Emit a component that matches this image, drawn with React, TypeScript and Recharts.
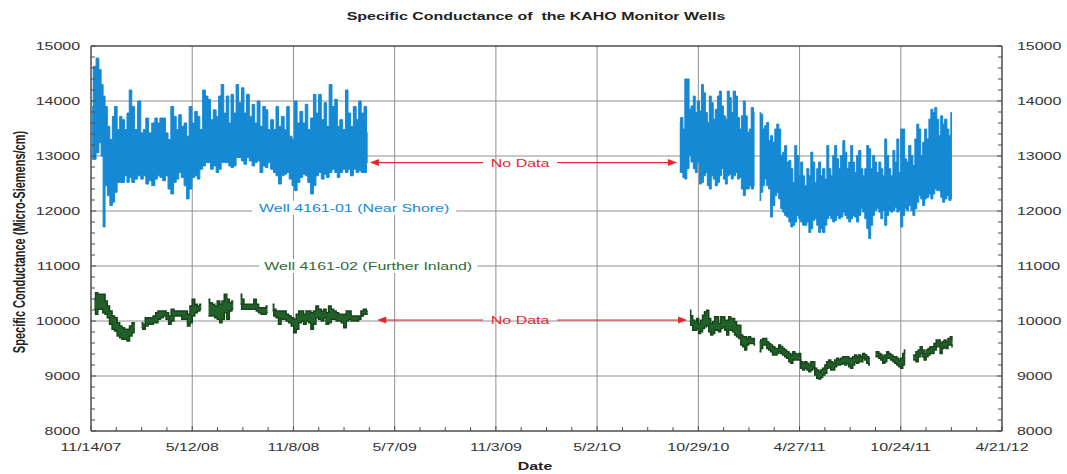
import React from 'react';
import {
  ComposedChart,
  Area,
  XAxis,
  YAxis,
  CartesianGrid,
  ReferenceLine,
  ReferenceDot,
} from 'recharts';

// x = days since 11/14/07 ; [day, low, high] (µS/cm)
const xTickLabels = ['11/14/07', '5/12/08', '11/8/08', '5/7/09', '11/3/09', '5/2/1O', '10/29/10', '4/27/11', '10/24/11', '4/21/12'];
const xMajorStep = 180;
const xMinorStep = 45;
const yMin = 8000;
const yMax = 15000;
const yMajorStep = 1000;
const yMinorStep = 200;

type Row = [number, number | null, number | null];

const nearShoreA: Row[] = [
  [2, 12940, 13900], [6, 12940, 14630], [12, 13060, 14780], [16, 13240, 14570], [20, 13000, 14300],
  [23, 11710, 14090], [27, 12460, 13900], [31, 12280, 13540], [36, 12100, 13300], [40, 12160, 13720],
  [44, 12340, 13900], [49, 12520, 13480], [53, 12520, 13720], [57, 12520, 13660], [62, 12640, 13480],
  [66, 12520, 13780], [70, 12610, 14200], [75, 12520, 13900], [80, 12580, 13480], [86, 12640, 14000],
  [91, 12580, 13420], [95, 12640, 13480], [100, 12490, 13690], [105, 12550, 13420], [111, 12460, 13600],
  [116, 12580, 13690], [120, 12640, 13600], [125, 12610, 13690], [130, 12550, 13690], [135, 12640, 13420],
  [139, 12400, 13300], [145, 12310, 13900], [149, 12520, 13720], [154, 12580, 13480], [158, 12700, 13750],
  [163, 12610, 13540], [168, 12460, 13600], [172, 12220, 13360], [177, 12400, 13900], [182, 12610, 13600],
  [187, 12640, 13810], [191, 12580, 13720], [196, 12760, 13480], [201, 12820, 14200], [206, 12880, 14090],
  [210, 12880, 14030], [215, 12760, 13660], [220, 12820, 13840], [225, 12700, 13720], [229, 12760, 14090],
  [234, 12880, 14300], [238, 12880, 13780], [243, 12880, 14090], [247, 12820, 13600], [251, 12790, 14120],
  [256, 12820, 13780], [260, 12970, 14300], [265, 12970, 13970], [270, 12910, 14240], [274, 12850, 13780],
  [279, 12970, 14120], [284, 12910, 13720], [289, 12820, 13940], [293, 12880, 13600], [298, 12910, 14000],
  [303, 12700, 13540], [308, 12820, 13900], [312, 12790, 13840], [317, 12880, 13480], [322, 12760, 13660],
  [327, 12700, 13480], [331, 12640, 13900], [336, 12490, 13540], [341, 12640, 13720], [346, 12670, 13480],
  [350, 12700, 13900], [355, 12580, 13360], [360, 12460, 13300], [364, 12370, 14000], [369, 12520, 13600],
  [374, 12610, 13810], [379, 12670, 13600], [383, 12640, 13940], [388, 12520, 13480], [393, 12310, 13690],
  [398, 12460, 14120], [402, 12640, 13780], [407, 12700, 14120], [412, 12580, 13660], [417, 12670, 13970],
  [421, 12610, 13540], [426, 12700, 14300], [431, 12760, 13900], [436, 12700, 14030], [440, 12610, 13540],
  [445, 12700, 13660], [450, 12760, 13480], [455, 12700, 14200], [459, 12760, 13780], [464, 12640, 13540],
  [469, 12760, 13900], [474, 12700, 13660], [478, 12730, 14000], [483, 12700, 13780], [488, 12700, 13900],
  [492, 12880, 13420],
];

const nearShoreB: Row[] = [
  [1047, 12700, 13610], [1050, 12700, 13700], [1055, 12610, 13490], [1057, 12580, 14400], [1062, 12770, 14400],
  [1065, 13010, 13850], [1069, 12890, 13910], [1073, 12770, 14090], [1076, 12700, 13790], [1080, 12890, 14000],
  [1084, 12490, 13820], [1087, 12520, 14300], [1091, 12640, 14150], [1094, 12700, 13790], [1098, 12460, 13610],
  [1101, 12400, 14090], [1105, 12640, 13970], [1108, 12580, 13670], [1112, 12460, 13850], [1116, 12520, 14090],
  [1119, 12640, 14180], [1123, 12770, 13910], [1126, 12580, 13730], [1130, 12490, 13670], [1133, 12640, 14180],
  [1137, 12670, 14060], [1140, 12580, 13790], [1144, 12640, 14180], [1148, 12700, 14090], [1151, 12580, 13700],
  [1155, 12610, 13490], [1158, 12400, 13730], [1162, 12280, 14000], [1165, 12400, 13730], [1169, 12400, 13430],
  [1172, 12460, 13490], [1176, 12400, 13880], [1180, 12460, 13790], [1184, null, null],
  [1189, 12190, 13790], [1193, 12340, 13760], [1196, 12460, 13490], [1200, 12580, 13550], [1203, 12460, 13610],
  [1207, 12400, 13280], [1210, 11890, 13370], [1214, 12100, 13250], [1218, 12280, 13490], [1221, 12340, 13580],
  [1225, 12220, 13490], [1228, 12040, 13010], [1232, 11980, 13070], [1235, 11920, 13190], [1239, 11890, 12890],
  [1243, 11800, 12920], [1246, 11710, 12770], [1250, 11740, 12520], [1253, 11800, 13190], [1257, 11920, 13010],
  [1260, 11860, 12640], [1264, 11800, 12890], [1267, 11740, 12640], [1271, 11740, 12460], [1275, 11800, 12770],
  [1278, 11610, 12640], [1282, 11680, 13070], [1285, 11830, 12890], [1289, 11860, 12520], [1292, 11740, 12770],
  [1296, 11610, 12890], [1299, 11680, 12640], [1303, 11610, 12770], [1307, 11740, 12580], [1310, 11860, 13190],
  [1314, 11920, 12770], [1317, 11860, 12640], [1321, 11800, 13010], [1324, 11830, 13190], [1328, 11920, 12950],
  [1331, 11860, 12770], [1335, 11890, 13010], [1339, 11980, 13280], [1342, 11920, 13070], [1346, 11860, 12770],
  [1349, 11800, 12890], [1353, 11860, 13190], [1356, 11920, 12890], [1360, 11890, 12700], [1363, 11800, 13010],
  [1367, 11920, 13100], [1371, 12040, 12770], [1374, 11980, 12640], [1378, 11860, 12770], [1381, 11680, 13190],
  [1385, 11500, 13130], [1388, 11740, 12770], [1392, 11920, 13010], [1395, 12010, 12890], [1399, 12040, 12700],
  [1403, 11980, 12890], [1406, 11860, 12770], [1410, 12010, 12640], [1413, 11740, 13310], [1417, 11920, 13010],
  [1420, 12010, 12770], [1424, 11980, 12640], [1428, 12010, 13100], [1431, 12070, 12890], [1435, 11980, 13310],
  [1438, 12010, 12700], [1442, 11710, 13490], [1445, 11920, 13490], [1449, 12040, 12950], [1452, 12010, 12890],
  [1456, 12100, 13190], [1460, 12010, 13010], [1463, 11920, 12830], [1467, 12040, 13310], [1470, 12160, 13580],
  [1474, 12280, 13490], [1477, 12220, 13010], [1481, 12100, 13250], [1484, 12220, 13490], [1488, 12250, 13310],
  [1492, 12310, 13670], [1495, 12220, 13850], [1499, 12310, 13790], [1502, 12400, 13880], [1506, 12370, 13670],
  [1509, 12370, 13370], [1513, 12250, 13730], [1516, 12160, 13580], [1520, 12220, 13670], [1524, 12280, 13490],
  [1527, 12190, 13370], [1531, 12220, 13790],
];

const inlandA: Row[] = [
  [6, 10212, 10394], [10, 10121, 10515], [14, 10212, 10485], [19, 10212, 10485], [23, 10152, 10485],
  [27, 10121, 10364], [31, 10061, 10273], [35, 9940, 10182], [40, 9849, 10091], [44, 9818, 10061],
  [49, 9727, 9970], [53, 9697, 9909], [57, 9667, 9879], [62, 9667, 9849], [66, 9636, 9849],
  [71, 9727, 9909], [75, 9788, 9970], [78, 9849, 9970], [84, null, null],
  [90, 9879, 9970], [94, 9849, 9940], [99, 9909, 10061], [104, 9940, 10061], [108, 9940, 10061],
  [113, 9970, 10091], [117, 9970, 10152], [121, 10030, 10182], [126, 10061, 10182], [131, 10091, 10182],
  [136, 10030, 10152], [140, 9940, 10091], [145, 10000, 10212], [150, 10091, 10182], [155, 10091, 10182],
  [159, 10091, 10182], [164, 10030, 10182], [169, 10030, 10182], [174, 9909, 10121], [178, 9970, 10273],
  [182, 10091, 10394], [187, 10152, 10303], [191, 10182, 10273], [196, 10212, 10303], [202, null, null],
  [209, 10091, 10394], [213, 10091, 10333], [218, 10091, 10303], [222, 10061, 10273], [227, 10030, 10364],
  [231, 9970, 10303], [235, 10030, 10364], [239, 10152, 10485], [244, 10030, 10394], [248, 10182, 10333],
  [253, 10212, 10364], [259, null, null],
  [266, 10303, 10485], [270, 10212, 10394], [274, 10212, 10303], [278, 10212, 10303], [283, 10212, 10303],
  [287, 10212, 10303], [292, 10212, 10394], [296, 10182, 10303], [300, 10152, 10243], [305, 10121, 10243],
  [309, 10121, 10243], [314, 10152, 10273], [318, null, null],
  [323, 10182, 10303], [327, 10091, 10212], [331, 10061, 10182], [336, 9940, 10182], [340, 10030, 10182],
  [345, 10030, 10182], [349, 10000, 10121], [354, 9970, 10091], [358, 9909, 10061], [363, 9788, 10030],
  [367, 9849, 10121], [372, 9970, 10182], [376, 10000, 10182], [380, 9940, 10121], [385, 10000, 10182],
  [389, 9970, 10182], [393, 9849, 10152], [398, 9940, 10182], [402, 10061, 10273], [407, 10030, 10212],
  [412, 10000, 10182], [416, 10061, 10212], [420, 9940, 10152], [425, 9970, 10273], [429, 10030, 10212],
  [434, 10030, 10182], [438, 10000, 10152], [443, 10000, 10121], [447, 9970, 10121], [452, 9879, 10121],
  [456, 10000, 10182], [460, 10030, 10182], [465, 10000, 10091], [469, 10000, 10091], [474, 10000, 10091],
  [478, 10030, 10091], [482, 10091, 10182], [487, 10121, 10212], [492, 10121, 10182],
];

const inlandB: Row[] = [
  [1065, 9985, 10197], [1068, 9925, 10094], [1072, 9834, 10015], [1075, 9834, 9985], [1079, 9864, 10046],
  [1082, 9774, 9955], [1086, 9804, 10015], [1089, 9864, 10106], [1093, 9895, 10166], [1097, 9925, 10197],
  [1100, 9804, 10046], [1104, 9744, 9955], [1107, 9774, 9985], [1111, 9834, 10076], [1114, 9834, 10076],
  [1118, 9804, 9955], [1122, 9864, 10076], [1125, 9895, 10076], [1129, 9834, 10015], [1132, 9744, 10015],
  [1136, 9834, 10076], [1139, 9834, 10046], [1143, 9804, 10046], [1146, 9744, 9985], [1150, 9714, 9925],
  [1154, 9683, 9925], [1157, 9562, 9744], [1161, 9532, 9714], [1164, 9472, 9714], [1168, 9562, 9683],
  [1171, 9593, 9714], [1175, 9593, 9683], [1178, 9593, 9683], [1181, 9562, 9653], [1185, null, null],
  [1189, 9442, 9623], [1193, 9502, 9653], [1196, 9562, 9683], [1200, 9562, 9683], [1203, 9502, 9623],
  [1207, 9472, 9593], [1210, 9442, 9562], [1214, 9381, 9532], [1218, 9381, 9502], [1221, 9411, 9502],
  [1225, 9442, 9562], [1228, 9411, 9532], [1232, 9381, 9502], [1235, 9351, 9472], [1239, 9321, 9442],
  [1243, 9260, 9411], [1246, 9230, 9381], [1250, 9291, 9442], [1253, 9291, 9411], [1257, 9291, 9381],
  [1260, 9291, 9411], [1264, 9140, 9260], [1267, 9110, 9230], [1271, 9140, 9260], [1275, 9110, 9230],
  [1278, 9079, 9200], [1282, 9110, 9260], [1285, 9140, 9260], [1289, 9019, 9140], [1292, 8958, 9110],
  [1296, 8946, 9079], [1299, 8971, 9110], [1303, 9019, 9140], [1307, 9049, 9200], [1310, 9140, 9260],
  [1314, 9170, 9291], [1317, 9110, 9260], [1321, 9110, 9230], [1324, 9170, 9291], [1328, 9200, 9321],
  [1331, 9200, 9291], [1335, 9212, 9321], [1339, 9230, 9351], [1342, 9200, 9351], [1346, 9230, 9351],
  [1349, 9170, 9321], [1353, 9140, 9321], [1356, 9200, 9351], [1360, 9260, 9381], [1363, 9230, 9351],
  [1367, 9260, 9381], [1371, 9260, 9351], [1374, 9321, 9411], [1378, 9291, 9381], [1381, 9230, 9351],
  [1385, 9200, 9321], [1390, null, null],
  [1395, 9351, 9442], [1399, 9351, 9442], [1403, 9321, 9411], [1406, 9291, 9381], [1410, 9230, 9351],
  [1413, 9260, 9381], [1417, 9321, 9442], [1420, 9321, 9411], [1424, 9291, 9381], [1428, 9260, 9351],
  [1431, 9230, 9351], [1435, 9200, 9321], [1438, 9170, 9291], [1442, 9140, 9321], [1445, 9200, 9411],
  [1448, 9321, 9472], [1455, null, null],
  [1462, 9291, 9381], [1465, 9291, 9381], [1469, 9260, 9442], [1473, 9351, 9472], [1476, 9411, 9532],
  [1480, 9351, 9472], [1483, 9291, 9411], [1487, 9351, 9472], [1490, 9381, 9502], [1494, 9411, 9532],
  [1497, 9411, 9532], [1501, 9472, 9593], [1505, 9532, 9653], [1508, 9532, 9653], [1512, 9411, 9593],
  [1515, 9502, 9623], [1519, 9532, 9653], [1522, 9502, 9623], [1526, 9562, 9683], [1530, 9562, 9714],
  [1532, 9532, 9653],
];

// annotations (data coordinates)
const noDataTop = { y: 12880, leftTip: 496, leftStart: 697, rightStart: 829, rightTip: 1042, textX: 763 };
const noDataBottom = { y: 10018, leftTip: 509, leftStart: 697, rightStart: 829, rightTip: 1060, textX: 763 };
const labelNear = { x: 468, y: 12060, text: 'Well 4161-01 (Near Shore)' };
const labelInland = { x: 493, y: 11000, text: 'Well 4161-02 (Further Inland)' };

const toSeries = (rows: Row[]) =>
  rows.map(([day, lo, hi]) => ({ day, range: lo == null || hi == null ? null : [lo, hi] }));

const range = (a: number, b: number, s: number) => {
  const out: number[] = [];
  for (let v = a; v <= b + 1e-9; v += s) out.push(v);
  return out;
};

const xTicks = range(0, xMajorStep * (xTickLabels.length - 1), xMinorStep);
const xMajor = range(xMajorStep, xMajorStep * (xTickLabels.length - 2), xMajorStep);
const yTicks = range(yMin, yMax, yMinorStep);
const yMajorInner = range(yMin + yMajorStep, yMax - yMajorStep, yMajorStep);

const FONT = '"Liberation Sans", Arial, Helvetica, sans-serif';
const SX = 1.45;
const AXIS = '#4d4d4d';
const TXT = '#333333';
const BLUE = '#1589d3';
const GREEN_FILL = '#22602a';
const GREEN_EDGE = '#17451c';
const RED = '#e8262c';
const GRID = '#8f8f8f';

const LM = 11; // left tick margin
const RM = 15; // right tick margin
const BM = 12; // bottom tick margin

function LeftTick(props: any) {
  const { x, y, payload } = props;
  const v = payload.value as number;
  const ax = x + LM;
  const major = v % yMajorStep === 0;
  return (
    <g>
      <line x1={ax} x2={ax + (major ? 5 : 4)} y1={y} y2={y} stroke={AXIS} strokeWidth={1} />
      {major && (
        <text transform={`translate(${x},${y}) scale(${SX},1)`} textAnchor="end" dy="0.36em"
          fontSize={11} fill={TXT} fontFamily={FONT}>{v}</text>
      )}
    </g>
  );
}

function RightTick(props: any) {
  const { x, y, payload } = props;
  const v = payload.value as number;
  const ax = x - RM;
  const major = v % yMajorStep === 0;
  return (
    <g>
      <line x1={ax - (major ? 5 : 4)} x2={ax} y1={y} y2={y} stroke={AXIS} strokeWidth={1} />
      {major && (
        <text transform={`translate(${x},${y}) scale(${SX},1)`} textAnchor="start" dy="0.36em"
          fontSize={11} fill={TXT} fontFamily={FONT}>{v}</text>
      )}
    </g>
  );
}

function BottomTick(props: any) {
  const { x, y, payload } = props;
  const v = payload.value as number;
  const ay = y - BM;
  const idx = Math.round(v / xMajorStep);
  const major = Math.abs(v - idx * xMajorStep) < 1e-6;
  return (
    <g>
      <line x1={x} x2={x} y1={ay - (major ? 5 : 4)} y2={ay} stroke={AXIS} strokeWidth={1} />
      {major && (
        <text transform={`translate(${x},${y}) scale(${SX},1)`} textAnchor="middle" dy="0.72em"
          fontSize={11} fill={TXT} fontFamily={FONT}>{xTickLabels[idx]}</text>
      )}
    </g>
  );
}

const arrowShape = (props: any) => {
  const { x1, y1, x2, y2 } = props;
  const dx = x2 - x1;
  const dir = dx >= 0 ? 1 : -1;
  const L = 9;
  const W = 3.5;
  return (
    <g>
      <line x1={x1} y1={y1} x2={x2 - dir * L * 0.6} y2={y2} stroke={RED} strokeWidth={1.2} />
      <polygon points={`${x2},${y2} ${x2 - dir * L},${y2 - W} ${x2 - dir * L},${y2 + W}`} fill={RED} />
    </g>
  );
};

const redText = (props: any) => (
  <text transform={`translate(${props.cx},${props.cy}) scale(${SX},1)`} textAnchor="middle" dy="0.36em"
    fontSize={11} fill={RED} fontFamily={FONT}>No Data</text>
);

const wellLabel = (text: string, color: string, w: number) => (props: any) => (
  <g>
    <rect x={props.cx - w / 2} y={props.cy - 7} width={w} height={14} fill="#ffffff" />
    <text transform={`translate(${props.cx},${props.cy}) scale(${SX},1)`} textAnchor="middle" dy="0.36em"
      fontSize={11} fill={color} fontFamily={FONT}>{text}</text>
  </g>
);

export default function App() {
  const nA = toSeries(nearShoreA);
  const nB = toSeries(nearShoreB);
  const iA = toSeries(inlandA);
  const iB = toSeries(inlandB);
  const xDomain = [0, xMajorStep * (xTickLabels.length - 1)];

  return (
    <div style={{ position: 'absolute', left: 0, top: 0, width: 1067, height: 474, background: '#fff' }}>
      <ComposedChart width={1067} height={474} margin={{ top: 46, right: 8, bottom: 8, left: 8 }}>
        <CartesianGrid yAxisId="left" stroke={GRID} strokeWidth={1}
          horizontalValues={yMajorInner} verticalValues={xMajor} />
        <XAxis type="number" dataKey="day" domain={xDomain} allowDataOverflow ticks={xTicks} interval={0}
          height={35} tickSize={0} tickMargin={BM} tick={BottomTick}
          axisLine={{ stroke: AXIS, strokeWidth: 1.5 }} tickLine={false} />
        <YAxis yAxisId="left" type="number" domain={[yMin, yMax]} allowDataOverflow ticks={yTicks} interval={0}
          width={83} tickSize={0} tickMargin={LM} tick={LeftTick}
          axisLine={{ stroke: AXIS, strokeWidth: 1.5 }} tickLine={false} />
        <YAxis yAxisId="right" orientation="right" type="number" domain={[yMin, yMax]} allowDataOverflow
          ticks={yTicks} interval={0} width={57} tickSize={0} tickMargin={RM} tick={RightTick}
          axisLine={{ stroke: AXIS, strokeWidth: 1.5 }} tickLine={false} />
        <ReferenceLine yAxisId="left" y={yMax} stroke={AXIS} strokeWidth={1.5} />

        <Area yAxisId="left" data={nA} dataKey="range" type="step" stroke={BLUE} strokeWidth={1}
          fill={BLUE} fillOpacity={1} isAnimationActive={false} dot={false} activeDot={false} />
        <Area yAxisId="left" data={nB} dataKey="range" type="step" stroke={BLUE} strokeWidth={1}
          fill={BLUE} fillOpacity={1} isAnimationActive={false} dot={false} activeDot={false} />
        <Area yAxisId="left" data={iA} dataKey="range" type="step" stroke={GREEN_EDGE} strokeWidth={1.5}
          fill={GREEN_FILL} fillOpacity={1} isAnimationActive={false} dot={false} activeDot={false} />
        <Area yAxisId="left" data={iB} dataKey="range" type="step" stroke={GREEN_EDGE} strokeWidth={1.5}
          fill={GREEN_FILL} fillOpacity={1} isAnimationActive={false} dot={false} activeDot={false} />

        {[noDataTop, noDataBottom].map((a, i) => (
          <ReferenceLine key={`l${i}`} yAxisId="left" ifOverflow="visible"
            segment={[{ x: a.leftStart, y: a.y }, { x: a.leftTip, y: a.y }]} shape={arrowShape} />
        ))}
        {[noDataTop, noDataBottom].map((a, i) => (
          <ReferenceLine key={`r${i}`} yAxisId="left" ifOverflow="visible"
            segment={[{ x: a.rightStart, y: a.y }, { x: a.rightTip, y: a.y }]} shape={arrowShape} />
        ))}
        {[noDataTop, noDataBottom].map((a, i) => (
          <ReferenceDot key={`t${i}`} yAxisId="left" x={a.textX} y={a.y} r={1} ifOverflow="visible" shape={redText} />
        ))}
        <ReferenceDot yAxisId="left" x={labelNear.x} y={labelNear.y} r={1} ifOverflow="visible"
          shape={wellLabel(labelNear.text, BLUE, 204)} />
        <ReferenceDot yAxisId="left" x={labelInland.x} y={labelInland.y} r={1} ifOverflow="visible"
          shape={wellLabel(labelInland.text, '#2f6a36', 218)} />
      </ComposedChart>

      <svg width={1067} height={474} style={{ position: 'absolute', left: 0, top: 0, pointerEvents: 'none' }}>
        <text transform={`translate(536,16) scale(${SX},1)`} textAnchor="middle" dy="0.36em" fontSize={11}
          fontWeight="bold" fill="#222" fontFamily={FONT} style={{ whiteSpace: 'pre' }}>Specific Conductance of  the KAHO Monitor Wells</text>
        <text transform={`translate(535,466) scale(${SX},1)`} textAnchor="middle" dy="0.36em" fontSize={11}
          fontWeight="bold" fill="#222" fontFamily={FONT}>Date</text>
        <text transform={`translate(19,242) rotate(-90) scale(1,${SX})`} textAnchor="middle" dy="0.36em"
          fontSize={11} fontWeight="bold" fill="#222" fontFamily={FONT}>Specific Conductance (Micro-Siemens/cm)</text>
      </svg>
    </div>
  );
}
